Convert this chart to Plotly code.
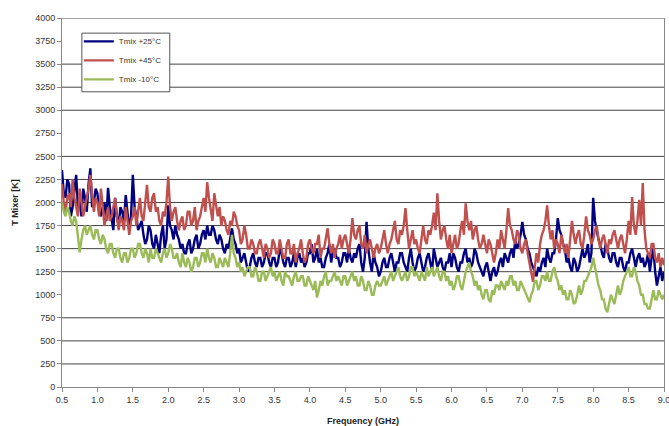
import plotly.graph_objects as go

freq_start = 0.5
freq_step = 0.025

tmix_p25 = [
    2350, 2100, 2050, 2250, 2200, 1850, 1950, 2100, 2300, 1950, 2000, 1850, 2150, 2050, 1900, 2200, 2370, 1950, 2000, 2150,
    2100, 1900, 1850, 1950, 2000, 1800, 2160, 1950, 1800, 1700, 2050, 1850, 1750, 1950, 1900, 1800, 2080, 1850, 1700, 1850,
    2300, 1950, 1850, 1700, 1750, 1800, 1650, 1550, 1600, 1750, 1700, 1550, 1500, 1650, 1550, 1450, 1650, 1750, 1500, 1600,
    1970, 1750, 1700, 1600, 1750, 1650, 1600, 1500, 1550, 1450, 1450, 1550, 1600, 1450, 1500, 1600, 1650, 1500, 1550, 1650,
    1700, 1600, 1750, 1650, 1650, 1750, 1700, 1600, 1550, 1650, 1600, 1500, 1450, 1550, 1500, 1600, 1720, 1600, 1550, 1450,
    1500, 1350, 1400, 1450, 1350, 1250, 1300, 1400, 1450, 1350, 1300, 1400, 1400, 1300, 1350, 1450, 1450, 1350, 1300, 1400,
    1400, 1300, 1350, 1500, 1450, 1350, 1300, 1400, 1400, 1300, 1350, 1450, 1300, 1400, 1450, 1350, 1400, 1300, 1350, 1450,
    1450, 1550, 1350, 1400, 1500, 1350, 1400, 1300, 1300, 1400, 1450, 1550, 1350, 1450, 1500, 1400, 1400, 1300, 1350, 1450,
    1450, 1350, 1500, 1400, 1350, 1450, 1400, 1500, 1550, 1350, 1250, 1400, 1790, 1500, 1350, 1250, 1450, 1350, 1300, 1200,
    1250, 1350, 1400, 1300, 1300, 1400, 1450, 1350, 1250, 1350, 1350, 1450, 1450, 1350, 1300, 1250, 1400, 1500, 1350, 1250,
    1300, 1400, 1450, 1350, 1250, 1300, 1400, 1450, 1350, 1250, 1500, 1400, 1300, 1350, 1400, 1300, 1250, 1350, 1350, 1450,
    1300, 1450, 1400, 1300, 1250, 1350, 1350, 1450, 1500, 1350, 1400, 1300, 1350, 1500, 1450, 1350, 1300, 1250, 1200, 1300,
    1350, 1250, 1150, 1250, 1300, 1200, 1250, 1350, 1400, 1300, 1450, 1400, 1350, 1450, 1500, 1400, 1600, 1500, 1550, 1650,
    1790, 1650, 1600, 1500, 1450, 1350, 1300, 1250, 1200, 1300, 1250, 1350, 1400, 1300, 1500, 1400, 1350, 1450, 1450, 1600,
    1830, 1700, 1650, 1550, 1500, 1350, 1400, 1300, 1250, 1400, 1350, 1250, 1300, 1400, 1500, 1400, 1450, 1550, 1350, 1450,
    2050, 1800, 1700, 1600, 1550, 1450, 1400, 1550, 1500, 1400, 1350, 1450, 1450, 1350, 1300, 1400, 1400, 1300, 1250, 1350,
    1350, 1450, 1500, 1400, 1300, 1400, 1450, 1350, 1400, 1300, 1350, 1450, 1250, 1400, 1500, 1250, 1100, 1200, 1300, 1150,
    1250,
]

tmix_p45 = [
    2200, 2000, 1900, 2050, 2100, 1950, 2250, 2050, 1950, 1850, 2150, 2000, 1850, 1950, 2050, 2150, 2300, 2050, 1900, 2050,
    2000, 1850, 2150, 1950, 1750, 1850, 1950, 1800, 1850, 1950, 2050, 1850, 1700, 1850, 1800, 1700, 1950, 1800, 1650, 1800,
    1850, 1950, 1750, 1900, 2050, 1850, 1800, 2000, 2190, 1950, 1900, 2050, 2100, 1900, 1950, 1800, 1750, 1900, 1850, 2000,
    2280, 1950, 1800, 1900, 1950, 1800, 1700, 1800, 1850, 1700, 1750, 1900, 1900, 1750, 1800, 1950, 1700, 1800, 1850, 1950,
    2050, 1900, 2220, 2050, 1900, 1800, 2100, 1950, 1850, 1950, 1750, 1850, 1800, 1700, 1650, 1800, 1750, 1900, 1850, 1750,
    1700, 1550, 1600, 1750, 1650, 1500, 1500, 1600, 1550, 1450, 1450, 1550, 1600, 1500, 1400, 1550, 1500, 1400, 1450, 1600,
    1550, 1450, 1450, 1600, 1500, 1400, 1400, 1550, 1600, 1450, 1450, 1550, 1350, 1450, 1500, 1600, 1450, 1350, 1400, 1550,
    1600, 1500, 1450, 1550, 1550, 1650, 1400, 1500, 1500, 1600, 1720, 1550, 1450, 1550, 1400, 1500, 1550, 1650, 1500, 1600,
    1650, 1550, 1450, 1600, 1830, 1650, 1600, 1700, 1750, 1550, 1500, 1650, 1450, 1550, 1600, 1500, 1400, 1500, 1550, 1450,
    1500, 1600, 1700, 1550, 1450, 1550, 1600, 1700, 1800, 1600, 1550, 1700, 1650, 1750, 1940, 1700, 1500, 1600, 1700, 1550,
    1600, 1500, 1450, 1600, 1750, 1600, 1550, 1700, 1650, 1750, 1890, 1700, 2100, 1800, 1600, 1700, 1750, 1600, 1500, 1650,
    1450, 1550, 1650, 1500, 1550, 1700, 1800, 1650, 1990, 1800, 1700, 1800, 1600, 1700, 1750, 1600, 1500, 1550, 1650, 1550,
    1450, 1600, 1550, 1450, 1350, 1450, 1600, 1500, 1700, 1600, 1500, 1700, 1940, 1750, 1700, 1600, 1550, 1700, 1650, 1500,
    1450, 1550, 1600, 1450, 1350, 1250, 1140, 1300, 1450, 1350, 1550, 1650, 1700, 1800, 1970, 1750, 1600, 1700, 1500, 1600,
    1550, 1450, 1650, 1550, 1450, 1550, 1400, 1600, 1800, 1650, 1550, 1650, 1700, 1550, 1500, 1650, 1850, 1700, 1650, 1550,
    1600, 1700, 1750, 1600, 1500, 1600, 1650, 1550, 1450, 1600, 1550, 1650, 1700, 1600, 1500, 1600, 1650, 1550, 1450, 1600,
    1800, 1650, 2060, 1750, 1650, 1800, 2030, 1750, 2210, 1700, 1500, 1450, 1400, 1550, 1550, 1400, 1350, 1450, 1300, 1400,
    1320,
]

tmix_m10 = [
    2000, 1900, 1850, 1950, 1900, 1800, 1750, 1850, 1800, 1650, 1460, 1600, 1700, 1750, 1650, 1700, 1750, 1650, 1600, 1700,
    1700, 1600, 1550, 1650, 1600, 1500, 1450, 1550, 1550, 1450, 1400, 1500, 1500, 1400, 1350, 1450, 1450, 1350, 1400, 1500,
    1500, 1400, 1450, 1550, 1550, 1450, 1400, 1500, 1450, 1350, 1500, 1400, 1400, 1500, 1450, 1400, 1350, 1450, 1500, 1400,
    1450, 1550, 1500, 1400, 1400, 1450, 1350, 1300, 1450, 1350, 1300, 1400, 1350, 1250, 1300, 1400, 1400, 1300, 1350, 1450,
    1450, 1350, 1500, 1400, 1350, 1450, 1400, 1300, 1300, 1400, 1350, 1300, 1400, 1350, 1300, 1450, 1650, 1450, 1400, 1300,
    1350, 1250, 1300, 1200, 1250, 1300, 1300, 1200, 1200, 1300, 1250, 1150, 1150, 1250, 1250, 1150, 1200, 1250, 1300, 1200,
    1250, 1150, 1200, 1250, 1150, 1100, 1250, 1200, 1200, 1150, 1100, 1200, 1250, 1150, 1150, 1200, 1200, 1100, 1100, 1200,
    1150, 1100, 1050, 1150, 970, 1050, 1150, 1100, 1200, 1250, 1100, 1150, 1150, 1200, 1250, 1150, 1200, 1150, 1100, 1200,
    1200, 1100, 1150, 1200, 1250, 1150, 1200, 1100, 1100, 1200, 1150, 1050, 1050, 1150, 1100, 1000, 1000, 1100, 1150, 1100,
    1100, 1150, 1200, 1100, 1150, 1200, 1250, 1150, 1200, 1250, 1300, 1200, 1150, 1200, 1250, 1150, 1200, 1300, 1300, 1200,
    1250, 1200, 1150, 1250, 1200, 1150, 1300, 1200, 1250, 1300, 1200, 1250, 1300, 1200, 1150, 1250, 1250, 1150, 1200, 1100,
    1150, 1050, 1100, 1200, 1200, 1100, 1050, 1150, 1250, 1300, 1350, 1250, 1200, 1100, 1150, 1050, 1100, 1000, 950, 1050,
    1050, 950, 920, 1050, 1000, 1100, 1100, 1050, 1150, 1100, 1050, 1150, 1100, 1200, 1200, 1100, 1150, 1050, 1050, 1150,
    1100, 1050, 1000, 950, 920, 1000, 1050, 1150, 1150, 1050, 1100, 1200, 1200, 1150, 1250, 1150, 1150, 1250, 1300, 1200,
    1150, 1050, 1100, 1000, 1050, 950, 950, 1050, 1000, 900, 920, 1000, 1100, 1000, 1050, 1150, 1150, 1200, 1250, 1300,
    1400, 1300, 1200, 1100, 1050, 950, 950, 850, 810, 900, 1000, 950, 900, 1000, 1100, 1000, 1050, 1150, 1200, 1250,
    1300, 1200, 1200, 1300, 1250, 1150, 1100, 1000, 1000, 900, 900, 850, 850, 950, 1050, 950, 950, 1050, 1000, 950,
    1000,
]

freq = [round(freq_start + freq_step * i, 4) for i in range(len(tmix_p25))]

series_names = ["Tmix +25°C", "Tmix +45°C", "Tmix -10°C"]
series_colors = ["#000080", "#C0504D", "#9BBB59"]

x_ticks = [0.5, 1.0, 1.5, 2.0, 2.5, 3.0, 3.5, 4.0, 4.5, 5.0, 5.5, 6.0, 6.5, 7.0, 7.5, 8.0, 8.5, 9.0]
y_ticks = list(range(0, 4001, 250))
grid_levels = [250, 500, 750, 1250, 1500, 1750, 2000, 2250, 2500, 3000, 3250, 3500, 4000]

fig = go.Figure()
for name, ys, col in zip(series_names, [tmix_p25, tmix_p45, tmix_m10], series_colors):
    fig.add_trace(go.Scatter(x=freq, y=ys, mode="lines", name=name,
                             line=dict(color=col, width=2.4)))

for g in grid_levels:
    fig.add_shape(type="line", xref="paper", x0=0, x1=1, yref="y", y0=g, y1=g,
                  line=dict(color="#444444", width=1), layer="below")

# legend frame (white box with border), drawn above the grid lines
fig.add_shape(type="rect", xref="paper", yref="paper", x0=0.033, x1=0.179, y0=0.80, y1=0.959,
              line=dict(color="#555555", width=1), fillcolor="white", layer="above")

font_family = "Liberation Sans, Arial, sans-serif"
fig.update_layout(
    width=669, height=426,
    margin=dict(l=62, r=5, t=18, b=39),
    paper_bgcolor="white", plot_bgcolor="white",
    font=dict(family=font_family, size=9, color="#333333"),
    showlegend=True,
    legend=dict(x=0.028, y=0.976, xanchor="left", yanchor="top",
                bgcolor="rgba(0,0,0,0)", borderwidth=0,
                itemwidth=30, font=dict(size=8, color="#333333"), tracegroupgap=0),
    xaxis=dict(range=[0.5, 9.0], tickvals=x_ticks,
               ticktext=[f"{v:.1f}" for v in x_ticks],
               showgrid=False, zeroline=False, showline=True,
               linecolor="#888888", linewidth=1, mirror=False,
               ticks="outside", ticklen=4, tickcolor="#888888",
               automargin=False, ticklabeloverflow="allow",
               title=dict(text="<b>Frequency (GHz)</b>", font=dict(size=9, color="#222222"))),
    yaxis=dict(range=[0, 4000], tickvals=y_ticks,
               showgrid=False, zeroline=False, showline=True,
               linecolor="#888888", linewidth=1, mirror=True,
               ticks="outside", ticklen=4, tickcolor="#888888",
               automargin=False, ticklabeloverflow="allow",
               title=dict(text="<b>T Mixer [K]</b>", font=dict(size=9, color="#222222"))),
)

fig.write_html("out.html", config={"displayModeBar": False},
               post_script="document.body.style.margin='0px';")
